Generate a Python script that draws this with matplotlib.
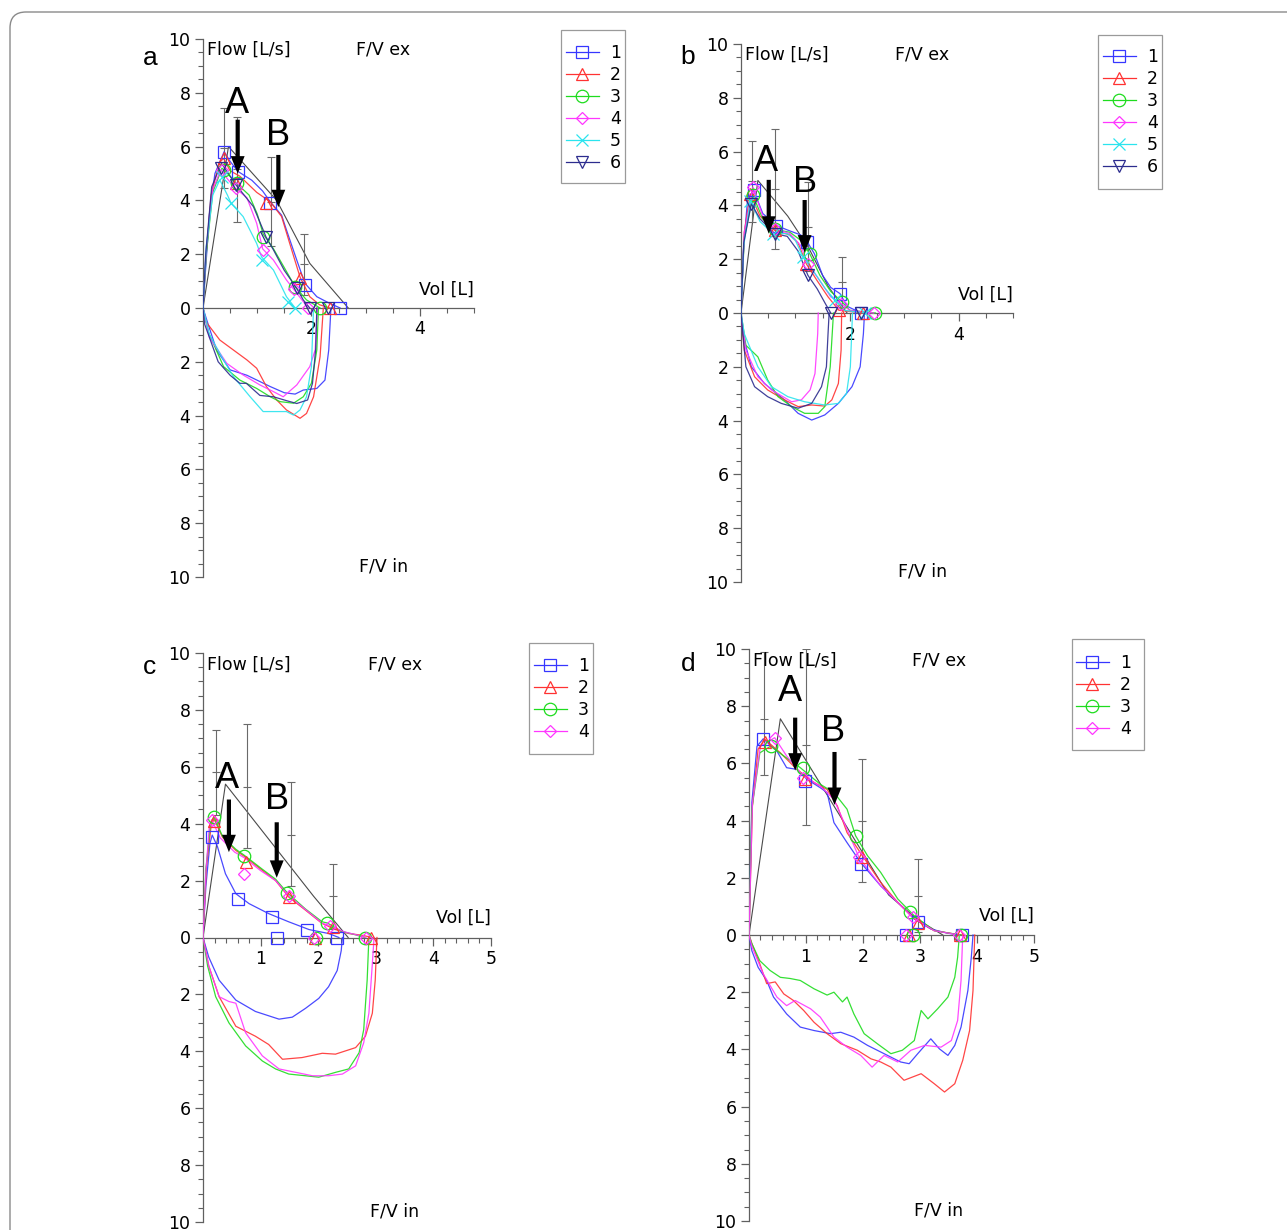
"""Flow/volume loops, four panels (a-d), traces 1..n with predicted line."""
import matplotlib
matplotlib.use("Agg")
import matplotlib.pyplot as plt
from matplotlib.ticker import MultipleLocator, FuncFormatter
from matplotlib.lines import Line2D
from matplotlib.patches import FancyBboxPatch, Rectangle
from matplotlib.transforms import IdentityTransform

# ---- panel a : (volume L, flow L/s); inspiratory flow given as magnitude ----
a1_exp = [(0, 0), (0.05, 1.5), (0.12, 3.5), (0.22, 5.0), (0.39, 5.81), (0.5, 5.45), (0.65, 5.07), (0.9, 4.75),
          (1.1, 4.35), (1.24, 3.95), (1.45, 3.45), (1.54, 2.9), (1.73, 1.78), (1.88, 0.92), (2.1, 0.42),
          (2.34, 0.17), (2.53, 0.0)]
a2_exp = [(0, 0), (0.05, 1.8), (0.15, 4.2), (0.3, 5.4), (0.38, 5.56), (0.5, 5.1), (0.68, 4.9), (0.99, 4.3),
          (1.24, 3.95), (1.45, 3.4), (1.6, 2.4), (1.79, 1.15), (1.97, 0.42), (2.15, 0.12), (2.34, 0.0)]
a3_exp = [(0, 0), (0.06, 2.0), (0.18, 4.3), (0.35, 5.2), (0.5, 4.9), (0.62, 4.63), (0.85, 4.2), (1.0, 3.5),
          (1.11, 2.75), (1.3, 2.2), (1.5, 1.5), (1.7, 0.79), (1.91, 0.3), (2.16, 0.0)]
a4_exp = [(0, 0), (0.06, 2.2), (0.18, 4.4), (0.33, 5.15), (0.45, 4.8), (0.6, 4.45), (0.81, 4.1), (0.99, 3.15),
          (1.1, 2.2), (1.3, 1.78), (1.54, 1.04), (1.73, 0.55), (1.94, 0.0)]
a5_exp = [(0, 0), (0.06, 2.3), (0.18, 4.2), (0.31, 4.76), (0.45, 4.2), (0.52, 3.89), (0.74, 3.4), (0.99, 2.4),
          (1.08, 1.9), (1.3, 1.41), (1.54, 0.42), (1.7, 0.0)]
a6_exp = [(0, 0), (0.05, 2.0), (0.16, 4.5), (0.34, 5.38), (0.5, 4.9), (0.61, 4.57), (0.93, 3.77), (1.11, 2.9),
          (1.16, 2.65), (1.3, 2.16), (1.5, 1.4), (1.73, 0.73), (1.85, 0.3), (1.97, 0.0)]
a1_insp = [(0, 0), (0.07, 0.45), (0.25, 1.56), (0.5, 2.3), (0.81, 2.5), (1.24, 2.92), (1.5, 3.15), (1.7, 3.2),
           (1.85, 3.05), (2.1, 2.99), (2.25, 2.68), (2.32, 1.56), (2.36, 0)]
a2_insp = [(0, 0), (0.05, 0.5), (0.31, 1.19), (0.56, 1.56), (0.81, 1.93), (0.99, 2.24), (1.17, 2.92),
           (1.36, 3.42), (1.54, 3.79), (1.79, 4.1), (1.91, 3.92), (2.04, 3.3), (2.16, 1.81), (2.22, 0)]
a3_insp = [(0, 0), (0.1, 0.9), (0.38, 2.18), (0.68, 2.68), (0.99, 2.99), (1.24, 3.3), (1.42, 3.48),
           (1.67, 3.54), (1.85, 3.3), (2.0, 2.8), (2.1, 1.56), (2.13, 0)]
a4_insp = [(0, 0), (0.12, 1.1), (0.44, 2.06), (0.74, 2.49), (1.05, 2.86), (1.3, 3.11), (1.48, 3.3),
           (1.73, 2.86), (1.97, 2.18), (2.07, 1.56), (2.11, 0)]
a5_insp = [(0, 0), (0.12, 1.0), (0.38, 1.93), (0.56, 2.55), (0.87, 3.3), (1.11, 3.85), (1.3, 3.85),
           (1.54, 3.85), (1.67, 3.98), (1.79, 3.79), (1.91, 3.3), (2.0, 2.18), (2.04, 0)]
a6_insp = [(0, 0), (0.03, 0.6), (0.28, 2.0), (0.5, 2.5), (0.68, 2.8), (0.8, 2.8), (1.05, 3.25), (1.3, 3.3),
           (1.55, 3.45), (1.73, 3.55), (1.93, 3.42), (2.02, 2.8), (2.08, 1.5), (2.1, 0)]
a1_mark = [(0.39, 5.81), (0.65, 5.07), (1.24, 3.89), (1.88, 0.86), (2.53, 0.0)]
a2_mark = [(0.38, 5.56), (0.61, 4.63), (1.16, 3.89), (1.79, 1.1), (2.34, 0.0)]
a3_mark = [(0.39, 5.13), (0.62, 4.63), (1.11, 2.65), (1.7, 0.79), (2.16, 0.0)]
a4_mark = [(0.35, 5.13), (0.6, 4.45), (1.1, 2.16), (1.67, 0.69), (1.94, 0.0)]
a5_mark = [(0.35, 4.88), (0.52, 3.89), (1.08, 1.78), (1.56, 0.24), (1.7, 0.0)]
a6_mark = [(0.34, 5.19), (0.61, 4.57), (1.16, 2.65), (1.73, 0.73), (1.97, 0.0), (2.3, 0.0)]
a_pred = [(0, 0), (0.47, 6.0), (1.36, 4.0), (1.97, 1.66), (2.68, 0.0)]
a_err_vol = [0.39, 0.63, 1.25, 1.87]
a_err_lo = [4.45, 3.21, 2.3, 0.5]
a_err_mid = [5.94, 5.15, 3.95, 1.62]
a_err_hi = [7.42, 7.1, 5.6, 2.75]

# ---- panel b ----
b1_exp = [(0, 0), (0.05, 2.5), (0.12, 4.2), (0.23, 4.58), (0.4, 3.7), (0.65, 3.25), (0.9, 3.05), (1.1, 2.9),
          (1.22, 2.64), (1.35, 2.2), (1.5, 1.4), (1.65, 0.95), (1.82, 0.72), (1.95, 0.25), (2.21, 0.0)]
b2_exp = [(0, 0), (0.06, 3.0), (0.17, 4.43), (0.35, 3.6), (0.62, 3.07), (0.9, 2.9), (1.05, 2.6), (1.2, 1.83),
          (1.4, 1.2), (1.6, 0.6), (1.8, 0.1), (2.25, 0.0)]
b3_exp = [(0, 0), (0.06, 2.8), (0.22, 4.37), (0.4, 3.5), (0.62, 3.11), (0.9, 3.0), (1.1, 2.7), (1.27, 2.18),
          (1.45, 1.4), (1.65, 0.8), (1.86, 0.41), (2.0, 0.1), (2.47, 0.0)]
b4_exp = [(0, 0), (0.06, 3.0), (0.22, 4.68), (0.4, 3.6), (0.62, 3.13), (0.9, 2.95), (1.1, 2.5), (1.23, 1.83),
          (1.45, 1.2), (1.65, 0.6), (1.84, 0.35), (2.0, 0.1), (2.44, 0.0)]
b5_exp = [(0, 0), (0.05, 2.5), (0.17, 4.18), (0.35, 3.4), (0.59, 2.95), (0.85, 2.95), (1.0, 2.7), (1.14, 2.08),
          (1.35, 1.5), (1.55, 0.9), (1.73, 0.47), (1.9, 0.1), (2.28, 0.0)]
b6_exp = [(0, 0), (0.05, 2.6), (0.19, 4.06), (0.35, 3.5), (0.62, 2.95), (0.85, 2.85), (1.05, 2.3), (1.23, 1.4),
          (1.4, 0.9), (1.55, 0.35), (1.65, 0.0)]
b1_insp = [(0, 0), (0.03, 0.77), (0.19, 2.0), (0.43, 2.62), (0.8, 3.23), (1.05, 3.73), (1.3, 3.98),
           (1.54, 3.79), (1.79, 3.36), (2.04, 2.74), (2.19, 2.0), (2.25, 0.77), (2.27, 0)]
b2_insp = [(0, 0), (0.06, 1.38), (0.25, 2.37), (0.49, 2.86), (0.8, 3.23), (1.05, 3.48), (1.3, 3.42),
           (1.54, 3.46), (1.67, 3.23), (1.79, 2.62), (1.84, 1.38), (1.85, 0)]
b3_insp = [(0, 0), (0.09, 1.2), (0.31, 1.63), (0.49, 2.49), (0.68, 3.11), (0.93, 3.48), (1.17, 3.73),
           (1.42, 3.73), (1.54, 3.48), (1.64, 2.0), (1.7, 0)]
b4_insp = [(0, 0), (0.09, 1.38), (0.31, 2.37), (0.56, 2.86), (0.93, 3.3), (1.11, 3.23), (1.27, 2.86),
           (1.36, 2.25), (1.41, 0.77), (1.42, 0)]
b5_insp = [(0, 0), (0.06, 0.77), (0.31, 2.0), (0.56, 2.74), (0.86, 3.11), (1.17, 3.3), (1.54, 3.42),
           (1.79, 3.36), (1.94, 2.99), (2.01, 2.0), (2.05, 0)]
b6_insp = [(0, 0), (0.09, 2.0), (0.25, 2.74), (0.49, 3.11), (0.74, 3.36), (1.05, 3.54), (1.3, 3.36),
           (1.48, 2.74), (1.57, 2.0), (1.6, 0.77), (1.62, 0)]
b1_mark = [(0.23, 4.58), (0.65, 3.25), (1.22, 2.64), (1.82, 0.72), (2.21, 0.0)]
b2_mark = [(0.17, 4.43), (0.62, 3.07), (1.2, 1.83), (1.8, 0.1), (2.25, 0.0)]
b3_mark = [(0.22, 4.37), (0.62, 3.11), (1.27, 2.18), (1.86, 0.41), (2.47, 0.0)]
b4_mark = [(0.22, 4.68), (0.62, 3.13), (1.23, 1.83), (1.84, 0.35), (2.44, 0.0)]
b5_mark = [(0.17, 4.18), (0.59, 2.95), (1.14, 2.08), (1.73, 0.47), (2.28, 0.0)]
b6_mark = [(0.19, 4.06), (0.62, 2.95), (1.23, 1.4), (1.65, 0.0), (2.21, 0.0)]
b_pred = [(0, 0), (0.31, 4.93), (0.86, 3.6), (1.25, 2.4), (1.6, 1.0), (1.95, 0.0)]
b_err_vol = [0.2, 0.63, 1.23, 1.85]
b_err_lo = [3.4, 2.39, 1.55, 0.22]
b_err_mid = [4.9, 4.6, 3.2, 1.15]
b_err_hi = [6.41, 6.83, 4.86, 2.08]

# ---- panel c ----
c1_exp = [(0, 0), (0.05, 1.8), (0.12, 3.3), (0.16, 3.6), (0.25, 3.2), (0.39, 2.24), (0.57, 1.54), (0.8, 1.19),
          (1.14, 0.84), (1.49, 0.55), (1.84, 0.28), (2.18, 0.14), (2.36, 0.0)]
c2_exp = [(0, 0), (0.06, 2.5), (0.14, 3.9), (0.19, 4.17), (0.34, 3.52), (0.57, 3.06), (0.74, 2.82), (1.03, 2.36),
          (1.26, 2.0), (1.49, 1.42), (1.78, 0.96), (2.07, 0.49), (2.3, 0.28), (2.53, 0.14), (2.76, 0.08),
          (2.94, 0.0)]
c3_exp = [(0, 0), (0.05, 2.4), (0.13, 4.0), (0.19, 4.25), (0.34, 3.55), (0.57, 3.1), (0.71, 2.9), (1.03, 2.4),
          (1.26, 2.05), (1.46, 1.58), (1.78, 1.0), (2.07, 0.55), (2.16, 0.51), (2.4, 0.22), (2.6, 0.12),
          (2.81, 0.0)]
c4_exp = [(0, 0), (0.05, 2.3), (0.11, 3.9), (0.15, 4.14), (0.3, 3.5), (0.55, 3.0), (0.72, 2.8), (1.0, 2.35),
          (1.26, 2.0), (1.49, 1.46), (1.78, 0.98), (2.07, 0.5), (2.21, 0.41), (2.45, 0.2), (2.65, 0.1),
          (2.83, 0.0)]
c1_insp = [(0, 0), (0.1, 0.69), (0.28, 1.5), (0.57, 2.2), (0.91, 2.6), (1.32, 2.87), (1.55, 2.8),
           (1.78, 2.49), (2.01, 2.14), (2.18, 1.73), (2.33, 1.16), (2.4, 0.46), (2.42, 0.0)]
c2_insp = [(0, 0), (0.1, 1.0), (0.28, 2.08), (0.57, 3.12), (0.91, 3.47), (1.14, 3.76), (1.38, 4.28),
           (1.72, 4.22), (2.07, 4.07), (2.3, 4.1), (2.65, 3.87), (2.82, 3.47), (2.94, 2.66), (2.99, 1.5),
           (3.02, 0.0)]
c3_insp = [(0, 0), (0.08, 1.0), (0.22, 2.08), (0.45, 3.0), (0.74, 3.81), (1.03, 4.34), (1.26, 4.62),
           (1.49, 4.8), (1.78, 4.86), (2.01, 4.91), (2.3, 4.74), (2.53, 4.62), (2.71, 4.05), (2.79, 3.24),
           (2.85, 1.5), (2.88, 0.0)]
c4_insp = [(0, 0), (0.1, 1.0), (0.28, 2.08), (0.45, 2.25), (0.57, 2.31), (0.74, 3.35), (1.03, 4.16),
           (1.32, 4.62), (1.61, 4.74), (1.9, 4.86), (2.18, 4.86), (2.42, 4.8), (2.65, 4.51), (2.79, 3.7),
           (2.88, 2.66), (2.94, 0.92), (2.97, 0.0)]
c1_mark = [(0.16, 3.55), (0.6, 1.37), (1.19, 0.72), (1.29, 0.0), (1.81, 0.26), (2.33, 0.0)]
c2_mark = [(0.19, 4.11), (0.74, 2.65), (1.49, 1.42), (2.25, 0.37), (1.95, 0.0), (2.92, 0.0)]
c3_mark = [(0.19, 4.25), (0.71, 2.85), (1.46, 1.58), (2.16, 0.51), (1.97, 0.0), (2.81, 0.0)]
c4_mark = [(0.15, 4.14), (0.72, 2.24), (1.49, 1.46), (2.21, 0.41), (1.92, 0.0), (2.83, 0.0)]
c_pred = [(0, 0), (0.39, 5.39), (1.92, 1.45), (2.52, 0.0)]
c_err_vol = [0.22, 0.76, 1.52, 2.26]
c_err_lo = [4.3, 3.15, 1.8, 0.3]
c_err_mid = [5.8, 5.3, 3.6, 1.45]
c_err_hi = [7.29, 7.51, 5.47, 2.6]

# ---- panel d ----
d1_exp = [(0, 0), (0.05, 4.63), (0.14, 6.6), (0.25, 6.86), (0.49, 6.43), (0.66, 5.85), (0.84, 5.79),
          (1.02, 5.44), (1.25, 5.15), (1.37, 4.98), (1.49, 3.93), (1.72, 3.23), (1.96, 2.53), (2.31, 1.72),
          (2.61, 1.14), (2.9, 0.56), (3.19, 0.21), (3.49, 0.06), (3.72, 0.0)]
d2_exp = [(0, 0), (0.06, 4.5), (0.16, 6.5), (0.28, 6.84), (0.55, 6.37), (0.84, 5.79), (1.14, 5.33),
          (1.37, 5.09), (1.55, 4.51), (1.72, 3.58), (1.99, 2.77), (2.31, 1.84), (2.61, 1.14), (2.9, 0.56),
          (3.25, 0.15), (3.72, 0.0)]
d3_exp = [(0, 0), (0.05, 4.4), (0.19, 6.37), (0.38, 6.6), (0.61, 6.26), (0.9, 5.85), (1.25, 5.27),
          (1.49, 4.98), (1.72, 4.4), (1.87, 3.47), (2.08, 2.77), (2.31, 2.19), (2.61, 1.26), (2.9, 0.67),
          (3.25, 0.15), (3.72, 0.0)]
d4_exp = [(0, 0), (0.06, 4.6), (0.2, 6.6), (0.45, 6.9), (0.66, 6.26), (0.95, 5.56), (1.25, 5.21),
          (1.49, 4.74), (1.72, 3.7), (1.93, 2.71), (2.31, 1.72), (2.61, 1.14), (2.87, 0.62), (3.25, 0.15),
          (3.69, 0.0)]
d1_insp = [(0, 0), (0.05, 0.55), (0.16, 1.13), (0.31, 1.59), (0.43, 2.17), (0.66, 2.76), (0.9, 3.22),
           (1.14, 3.34), (1.43, 3.45), (1.61, 3.4), (1.84, 3.57), (2.08, 3.86), (2.43, 4.21), (2.66, 4.44),
           (2.81, 4.5), (2.96, 4.15), (3.19, 3.63), (3.34, 3.98), (3.49, 4.21), (3.61, 3.86), (3.72, 3.22),
           (3.84, 1.94), (3.9, 0.78), (3.93, 0)]
d2_insp = [(0, 0), (0.05, 0.3), (0.19, 1.01), (0.31, 1.7), (0.46, 1.64), (0.61, 2.06), (0.78, 2.29),
           (0.96, 2.64), (1.14, 3.05), (1.37, 3.45), (1.61, 3.8), (1.9, 4.03), (2.14, 4.33), (2.31, 4.44),
           (2.49, 4.62), (2.72, 5.08), (3.02, 4.85), (3.25, 5.2), (3.43, 5.49), (3.61, 5.2), (3.75, 4.38),
           (3.87, 3.34), (3.93, 1.94), (3.96, 0)]
d3_insp = [(0, 0), (0.05, 0.3), (0.19, 0.9), (0.37, 1.24), (0.55, 1.48), (0.72, 1.52), (0.9, 1.59),
           (1.14, 1.88), (1.37, 2.1), (1.49, 2.0), (1.64, 2.34), (1.72, 2.17), (1.84, 2.76), (2.02, 3.45),
           (2.25, 3.8), (2.49, 4.15), (2.69, 4.03), (2.9, 3.69), (3.02, 2.64), (3.14, 2.93), (3.31, 2.58),
           (3.49, 2.17), (3.61, 1.48), (3.66, 0.78), (3.69, 0)]
d4_insp = [(0, 0), (0.05, 0.4), (0.25, 1.36), (0.49, 2.17), (0.66, 2.47), (0.81, 2.29), (1.08, 2.58),
           (1.25, 2.87), (1.49, 3.57), (1.72, 3.92), (1.96, 4.21), (2.16, 4.62), (2.37, 4.21), (2.61, 4.44),
           (2.84, 4.03), (3.08, 3.86), (3.37, 3.92), (3.55, 3.69), (3.66, 2.99), (3.72, 1.59), (3.75, 0)]
d1_mark = [(0.25, 6.86), (0.99, 5.38), (1.96, 2.5), (2.96, 0.47), (2.76, 0.0), (3.74, 0.0)]
d2_mark = [(0.28, 6.74), (0.99, 5.44), (1.99, 2.71), (2.97, 0.42), (2.8, 0.0), (3.71, 0.0)]
d3_mark = [(0.38, 6.6), (0.94, 5.85), (1.87, 3.47), (2.83, 0.79), (2.87, 0.0), (3.72, 0.0)]
d4_mark = [(0.45, 6.9), (0.95, 5.5), (1.93, 2.71), (2.87, 0.62), (2.75, 0.0), (3.69, 0.0)]
d_pred = [(0, 0), (0.55, 7.56), (2.45, 1.4), (2.95, 0.55), (3.4, 0.0)]
d_err_vol = [0.27, 1.0, 1.98, 2.96]
d_err_lo = [5.58, 3.84, 1.84, 0.1]
d_err_mid = [7.56, 6.64, 3.99, 1.37]
d_err_hi = [9.9, 10.0, 6.14, 2.65]

TRACE_LABELS = ["1", "2", "3", "4", "5", "6"]
COLORS = ["#3636ff", "#ff3232", "#1edc1e", "#ff36ff", "#2ae4ee", "#2c2c8e"]
MARKERS = ["s", "^", "o", "D", "x", "v"]
MSIZE = [9, 9, 9, 6.5, 9, 9]
GREY = "#4a4a4a"

plt.rcParams["font.family"] = ["DejaVu Sans"]

W, H = 1287, 1230
fig = plt.figure(figsize=(W / 100, H / 100), dpi=100)
PIX = IdentityTransform()   # display coords == output pixels (dpi 100, no tight bbox)


def xy(pts, sign=1):
    return [p[0] for p in pts], [sign * p[1] for p in pts]


def panel(rect, exp, insp, marks, pred, ev, elo, emid, ehi, xminor, xt, arrows, legbox, leg_row1, leg_x):
    left, top, right, bottom = rect
    ax = fig.add_axes([left / W, 1 - bottom / H, (right - left) / W, (bottom - top) / H])
    ax.set_xlim(0, 5)
    ax.set_ylim(-10, 10)
    for s in ("top", "right"):
        ax.spines[s].set_visible(False)
    ax.spines["bottom"].set_position(("data", 0))
    for s in ("left", "bottom"):
        ax.spines[s].set_color("#606060")
        ax.spines[s].set_linewidth(0.9)
    ax.yaxis.set_major_locator(MultipleLocator(2))
    ax.yaxis.set_minor_locator(MultipleLocator(0.5))
    ax.yaxis.set_major_formatter(FuncFormatter(lambda v, p: f"{abs(v):g}"))
    ax.set_xticks(xt)
    ax.xaxis.set_minor_locator(MultipleLocator(xminor))
    ax.tick_params(which="major", length=6, width=0.9, color="#606060", labelsize=12.5, pad=3)
    ax.tick_params(which="minor", length=3.5, width=0.8, color="#606060")
    ax.patch.set_visible(False)

    # predicted loop and its spread
    px, py = xy(pred)
    ax.plot(px, py, color=GREY, lw=0.8, zorder=2)
    ax.vlines(ev, elo, ehi, color="#6a6a6a", lw=0.8, zorder=2)
    for vals in (elo, emid, ehi):
        ax.plot(ev, vals, ls="none", marker="_", ms=6, mew=0.8, color="#6a6a6a", zorder=2)

    handles = []
    for i in range(len(exp)):
        c = COLORS[i]
        x, y = xy(exp[i])
        ax.plot(x, y, color=c, lw=0.9, alpha=0.9, zorder=3)
        x, y = xy(insp[i], -1)
        ax.plot(x, y, color=c, lw=0.9, alpha=0.9, zorder=3)
        x, y = xy(marks[i])
        ax.plot(x, y, ls="none", marker=MARKERS[i], ms=MSIZE[i], mfc="none", mec=c, mew=0.9, zorder=4)
        handles.append(Line2D([], [], color=c, lw=0.9, marker=MARKERS[i], ms=MSIZE[i],
                              mfc="none", mec=c, mew=0.9))
    ax.legend(handles, TRACE_LABELS[:len(exp)], loc="upper left",
              bbox_to_anchor=(leg_x, H - (leg_row1 - 9)), bbox_transform=PIX,
              borderaxespad=0, borderpad=0, fontsize=12.5, handlelength=1.9, handletextpad=0.63,
              labelspacing=0.235, frameon=False)
    lx0, ly0, lx1, ly1 = legbox
    fig.add_artist(Rectangle((lx0, H - ly1), lx1 - lx0, ly1 - ly0, transform=PIX,
                             fill=False, ec="#9a9a9a", lw=0.9))

    ax.text(0.07, 9.6, "Flow [L/s]", fontsize=12.5, va="center", ha="left")
    ax.text(3.33, 9.6, "F/V ex", fontsize=12.5, va="center", ha="center")
    ax.text(5.0, 0.68, "Vol [L]", fontsize=12.5, va="center", ha="right")
    ax.text(3.33, -9.62, "F/V in", fontsize=12.5, va="center", ha="center")

    for lab, tx, ty, axx, y0, y1 in arrows:
        ax.text(tx, ty, lab, fontsize=26, ha="center", va="center", family="Liberation Sans", zorder=6)
        ax.annotate("", xy=(axx, y1), xytext=(axx, y0), zorder=6,
                    arrowprops=dict(arrowstyle="simple,head_width=1.0,head_length=1.25,tail_width=0.3",
                                    fc="k", ec="none", lw=0, shrinkA=0, shrinkB=0, mutation_scale=10))
    return ax


panel((203, 39, 474, 577),
      [a1_exp, a2_exp, a3_exp, a4_exp, a5_exp, a6_exp],
      [a1_insp, a2_insp, a3_insp, a4_insp, a5_insp, a6_insp],
      [a1_mark, a2_mark, a3_mark, a4_mark, a5_mark, a6_mark],
      a_pred, a_err_vol, a_err_lo, a_err_mid, a_err_hi, 0.5, [2, 4],
      [("A", 0.62, 7.6, 0.64, 7.0, 5.0), ("B", 1.39, 6.43, 1.39, 5.69, 3.75)],
      (561, 30, 625, 183), 53, 566)
panel((741, 44, 1013, 582),
      [b1_exp, b2_exp, b3_exp, b4_exp, b5_exp, b6_exp],
      [b1_insp, b2_insp, b3_insp, b4_insp, b5_insp, b6_insp],
      [b1_mark, b2_mark, b3_mark, b4_mark, b5_mark, b6_mark],
      b_pred, b_err_vol, b_err_lo, b_err_mid, b_err_hi, 0.5, [2, 4],
      [("A", 0.46, 5.65, 0.51, 4.95, 2.95), ("B", 1.17, 4.85, 1.17, 4.2, 2.25)],
      (1098, 35, 1162, 189), 57, 1103)
panel((203, 653, 491, 1222),
      [c1_exp, c2_exp, c3_exp, c4_exp],
      [c1_insp, c2_insp, c3_insp, c4_insp],
      [c1_mark, c2_mark, c3_mark, c4_mark],
      c_pred, c_err_vol, c_err_lo, c_err_mid, c_err_hi, 0.2, [1, 2, 3, 4, 5],
      [("A", 0.41, 5.6, 0.45, 4.85, 3.0), ("B", 1.29, 4.85, 1.28, 4.05, 2.1)],
      (529, 643, 593, 754), 666, 534)
panel((749, 649, 1034, 1221),
      [d1_exp, d2_exp, d3_exp, d4_exp],
      [d1_insp, d2_insp, d3_insp, d4_insp],
      [d1_mark, d2_mark, d3_mark, d4_mark],
      d_pred, d_err_vol, d_err_lo, d_err_mid, d_err_hi, 0.2, [1, 2, 3, 4, 5],
      [("A", 0.72, 8.5, 0.81, 7.6, 5.75), ("B", 1.48, 7.1, 1.5, 6.4, 4.55)],
      (1072, 639, 1144, 750), 663, 1076)

for lab, px, py in [("a", 150, 58), ("b", 688, 57), ("c", 150, 667), ("d", 688, 664)]:
    fig.text(px / W, 1 - py / H, lab, fontsize=19, ha="center", va="center", family="Liberation Sans")

# rounded outer frame (runs off the right and bottom edges)
fig.add_artist(FancyBboxPatch((10, -60), 1400, H - 12 + 60, boxstyle="round,pad=0,rounding_size=16",
                              transform=PIX, fill=False, ec="#8a8a8a", lw=1.0))

fig.savefig("out.png", dpi=100)
